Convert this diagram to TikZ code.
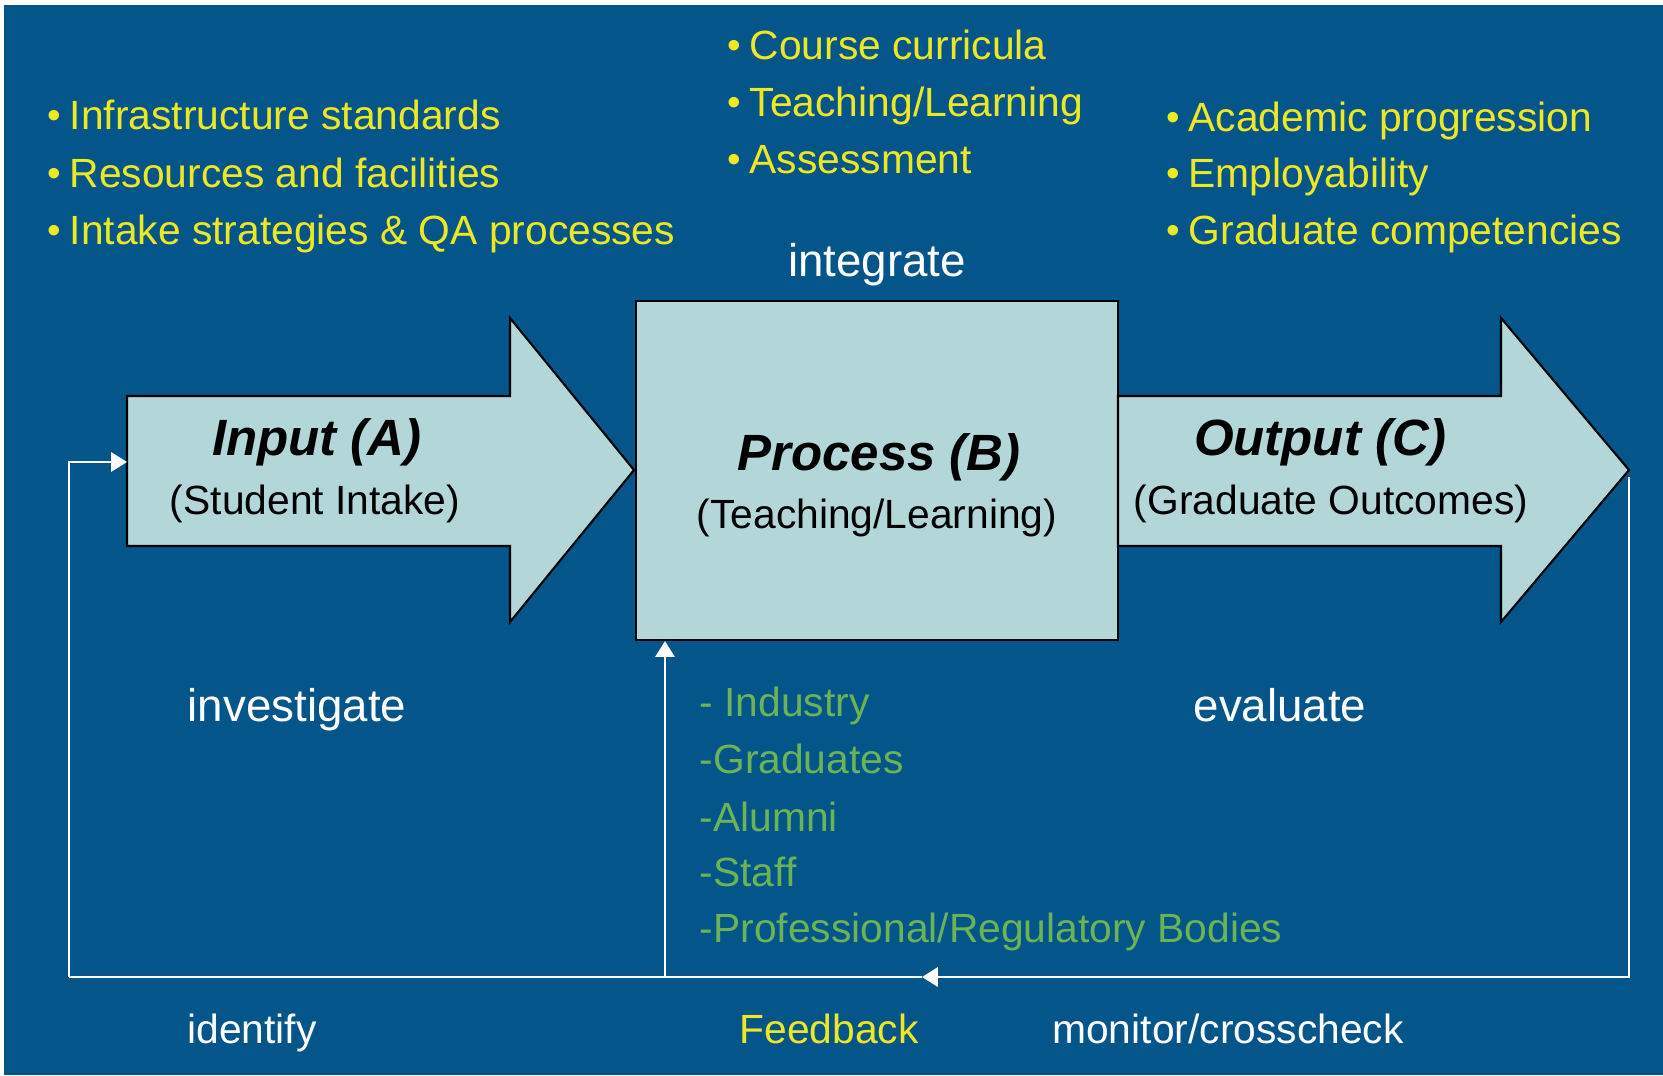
\documentclass[tikz,border=0pt]{standalone}
\usepackage{fontspec}
\setmainfont{Liberation Sans}
\usetikzlibrary{arrows.meta}
\definecolor{bgblue}{HTML}{03558A}
\definecolor{boxfill}{HTML}{B3D6D8}
\definecolor{txtyellow}{HTML}{EEE823}
\definecolor{txtgreen}{HTML}{6CB356}
\newcommand{\blt}{\llap{\raisebox{0.02em}{\scalebox{0.95}{\textbullet}}\hspace{0.22em}}}

\begin{document}
\begin{tikzpicture}[x=0.01cm,y=-0.01cm,
    txt/.style={inner sep=0pt,text height=0.82em,text depth=0pt},
    bul/.style={txt,anchor=west,text=txtyellow,font=\fontsize{11.6}{14}\selectfont},
    grn/.style={txt,anchor=west,text=txtgreen,font=\fontsize{11.6}{14}\selectfont},
    lbl/.style={txt,text=white,font=\fontsize{13}{16}\selectfont},
    low/.style={txt,text=white,font=\fontsize{11.6}{14}\selectfont},
    ttl/.style={txt,font=\fontsize{14.5}{17}\selectfont\bfseries\itshape},
    sub/.style={txt,font=\fontsize{11.6}{14}\selectfont},
    blk/.style={fill=boxfill,draw=black,line width=0.6pt},
    fb/.style={white,line width=0.6pt},
    fbtip/.style={fb,-{Triangle[length=4.5pt,width=5.5pt]}}]
    \useasboundingbox (0,0) rectangle (1663,1075);
    \fill[white] (0,0) rectangle (1663,1075);
    \fill[bgblue] (4,5) rectangle (1663,1075);

    % the three blocks
    \filldraw[blk] (127,396) -- (510,396) -- (510,318) -- (634,470) -- (510,622) -- (510,546) -- (127,546) -- cycle;
    \node[blk,minimum width=4.82cm,minimum height=3.39cm,inner sep=0pt] (proc) at (877,470.5) {};
    \filldraw[blk] (1118,396) -- (1501,396) -- (1501,318) -- (1629,470) -- (1501,622) -- (1501,546) -- (1118,546) -- cycle;

    \node[ttl] (inTtl) at (317,441) {Input (A)};
    \node[sub] (inSub) at (315,500) {(Student Intake)};
    \node[ttl] (procTtl) at (879,456) {Process (B)};
    \node[sub] (procSub) at (877,514) {(Teaching/Learning)};
    \node[ttl] (outTtl) at (1320,441) {Output (C)};
    \node[sub] (outSub) at (1331,500) {(Graduate Outcomes)};

    % bullet lists
    \node[bul] (infra) at (69,115) {\blt Infrastructure standards};
    \node[bul] (resrc) at (69,173) {\blt Resources and facilities};
    \node[bul] (intake) at (69,230) {\blt Intake strategies \& QA processes};
    \node[bul] (curric) at (749,45) {\blt Course curricula};
    \node[bul] (teach) at (749,102) {\blt Teaching/Learning};
    \node[bul] (assess) at (749,159) {\blt Assessment};
    \node[bul] (progr) at (1188,117) {\blt Academic progression};
    \node[bul] (employ) at (1188,173) {\blt Employability};
    \node[bul] (compet) at (1188,230) {\blt Graduate competencies};

    \node[grn] (indus) at (699,702) {- Industry};
    \node[grn] (grads) at (699,759) {-Graduates};
    \node[grn] (alumni) at (699,817) {-Alumni};
    \node[grn] (staff) at (699,872) {-Staff};
    \node[grn] (bodies) at (699,928) {-Professional/Regulatory Bodies};

    \node[lbl] (integr) at (877,262) {integrate};
    \node[lbl] (invest) at (297,707) {investigate};
    \node[lbl] (evalu) at (1280,707) {evaluate};
    \node[low] (ident) at (252,1029) {identify};
    \node[low,text=txtyellow] (feedb) at (829,1029) {Feedback};
    \node[low] (monit) at (1228,1029) {monitor/crosscheck};

    % feedback loop
    \coordinate (outTip) at (1629,477);
    \coordinate (fbMid) at (922,977);
    \coordinate (fbLeft) at (69,977);
    \coordinate (fbUp) at (665,977);
    \coordinate (inLeft) at (127,462);
    \draw[fbtip] (outTip) |- (fbMid);
    \draw[fb] (fbMid) -- (fbLeft);
    \draw[fbtip] (fbLeft) |- (inLeft);
    \draw[fbtip] (fbUp) -- (fbUp |- proc.south);
\end{tikzpicture}
\end{document}
